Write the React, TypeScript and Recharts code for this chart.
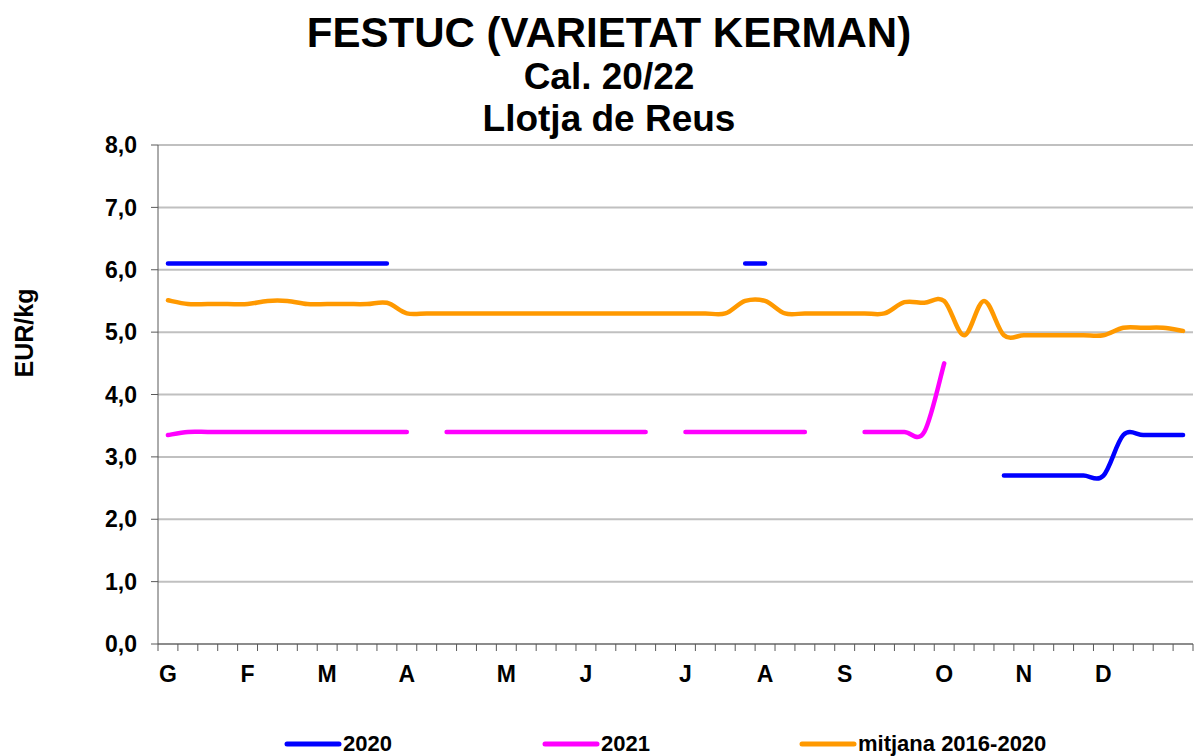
import { LineChart, Line, XAxis, YAxis, CartesianGrid } from "recharts";

const W = 1199;
const H = 756;
const FONT = "'Liberation Sans', Arial, Helvetica, sans-serif";

// 52 setmanes, lletra del mes a la setmana on comença
const monthLabels = ["G", "F", "M", "A", "M", "J", "J", "A", "S", "O", "N", "D"];
const monthStartWeek = [0, 4, 8, 12, 17, 21, 26, 30, 34, 39, 43, 47];

const serie2020 = [
  6.1, 6.1, 6.1, 6.1, 6.1, 6.1, 6.1, 6.1, 6.1, 6.1, 6.1, 6.1,
  null, null, null, null, null, null, null, null, null, null, null, null, null, null, null, null, null,
  6.1, 6.1,
  null, null, null, null, null, null, null, null, null, null, null,
  2.7, 2.7, 2.7, 2.7, 2.7, 2.7,
  3.35, 3.35, 3.35, 3.35,
];

const serie2021 = [
  3.35, 3.4, 3.4, 3.4, 3.4, 3.4, 3.4, 3.4, 3.4, 3.4, 3.4, 3.4, 3.4,
  null,
  3.4, 3.4, 3.4, 3.4, 3.4, 3.4, 3.4, 3.4, 3.4, 3.4, 3.4,
  null,
  3.4, 3.4, 3.4, 3.4, 3.4, 3.4, 3.4,
  null, null,
  3.4, 3.4, 3.4, 3.4, 4.5,
  null, null, null, null, null, null, null, null, null, null, null, null,
];

const mitjana = [
  5.51, 5.45, 5.45, 5.45, 5.45, 5.5, 5.5, 5.45, 5.45, 5.45, 5.45, 5.47,
  5.3, 5.3, 5.3, 5.3, 5.3, 5.3, 5.3, 5.3, 5.3, 5.3, 5.3, 5.3, 5.3, 5.3, 5.3, 5.3, 5.3,
  5.5, 5.5,
  5.3, 5.3, 5.3, 5.3, 5.3, 5.3,
  5.48, 5.47, 5.5, 4.95, 5.5,
  4.95, 4.95, 4.95, 4.95, 4.95, 4.95,
  5.07, 5.07, 5.07, 5.02,
];

const yTicks = [0, 1, 2, 3, 4, 5, 6, 7, 8];

const series = [
  { key: "s2020", name: "2020", color: "#0000FF" },
  { key: "s2021", name: "2021", color: "#FF00FF" },
  { key: "mitjana", name: "mitjana 2016-2020", color: "#FF9900" },
];

const data = mitjana.map((v, i) => ({
  x: i + 0.5,
  s2020: serie2020[i],
  s2021: serie2021[i],
  mitjana: v,
}));

const weekTicks = mitjana.map((_, i) => i).concat([mitjana.length]);
const labelTicks = monthStartWeek.map((w) => w + 0.5);

// suavitzat tipus Excel (bezier amb punts de control a 1/6)
const excelSmooth = (ctx: any) => {
  let pts: number[][] = [];
  return {
    areaStart() {},
    areaEnd() {},
    lineStart() {
      pts = [];
    },
    point(x: number, y: number) {
      pts.push([+x, +y]);
    },
    lineEnd() {
      const n = pts.length;
      if (!n) return;
      ctx.moveTo(pts[0][0], pts[0][1]);
      if (n === 1) {
        ctx.lineTo(pts[0][0] + 0.01, pts[0][1]);
        return;
      }
      for (let i = 0; i < n - 1; i++) {
        const p0 = pts[Math.max(i - 1, 0)];
        const p1 = pts[i];
        const p2 = pts[i + 1];
        const p3 = pts[Math.min(i + 2, n - 1)];
        ctx.bezierCurveTo(
          p1[0] + (p2[0] - p0[0]) / 6,
          p1[1] + (p2[1] - p0[1]) / 6,
          p2[0] - (p3[0] - p1[0]) / 6,
          p2[1] - (p3[1] - p1[1]) / 6,
          p2[0],
          p2[1]
        );
      }
    },
  };
};

const emptyLabel = () => "";
const yFormat = (v: number) => v.toFixed(1).replace(".", ",");
const axisGray = { stroke: "#595959" };
const yTickStyle = { fill: "#000", fontSize: 23, fontWeight: "bold", fontFamily: FONT };

const MonthTick = (p: any) => {
  const idx = labelTicks.indexOf(p.payload.value);
  return (
    <text x={p.x} y={p.y} dy={30} textAnchor="middle" fontFamily={FONT} fontWeight="bold" fontSize={23} fill="#000">
      {monthLabels[idx]}
    </text>
  );
};

const YTitle = () => (
  <text
    x={33}
    y={333}
    transform="rotate(-90 33 333)"
    textAnchor="middle"
    fontFamily={FONT}
    fontWeight="bold"
    fontSize={25}
    fill="#000"
  >
    EUR/kg
  </text>
);

const App = () => {
  return (
    <div style={{ position: "absolute", left: 0, top: 0, width: W, height: H, overflow: "hidden", background: "#fff" }}>
      <LineChart width={W} height={H} data={data} margin={{ top: 145, right: 6, bottom: 64, left: 0 }}>
        <CartesianGrid xAxisId={0} vertical={false} stroke="#C0C0C0" strokeWidth={2} />
        <XAxis
          xAxisId={0}
          dataKey="x"
          type="number"
          domain={[0, 52]}
          ticks={weekTicks}
          interval={0}
          height={8}
          tickSize={7}
          tickFormatter={emptyLabel}
          stroke="#595959"
          tickLine={axisGray}
        />
        <XAxis
          xAxisId={1}
          dataKey="x"
          type="number"
          domain={[0, 52]}
          ticks={labelTicks}
          interval={0}
          height={40}
          tickSize={0}
          tickMargin={0}
          axisLine={false}
          tickLine={false}
          tick={MonthTick}
        />
        <YAxis
          type="number"
          domain={[0, 8]}
          ticks={yTicks}
          interval={0}
          width={158}
          tickSize={7}
          tickMargin={14}
          stroke="#595959"
          tickFormatter={yFormat}
          tick={yTickStyle}
          label={{ content: YTitle }}
        />
        {series.map((s) => (
          <Line
            key={s.key}
            xAxisId={0}
            dataKey={s.key}
            name={s.name}
            type={excelSmooth as any}
            stroke={s.color}
            strokeWidth={4.5}
            strokeLinecap="round"
            strokeLinejoin="round"
            dot={false}
            activeDot={false}
            isAnimationActive={false}
          />
        ))}
      </LineChart>
      <svg
        width={W}
        height={H}
        style={{ position: "absolute", left: 0, top: 0, pointerEvents: "none" }}
        fontFamily={FONT}
        fontWeight="bold"
      >
        <text x={609} y={47} textAnchor="middle" fontSize={42}>
          FESTUC (VARIETAT KERMAN)
        </text>
        <text x={609} y={89} textAnchor="middle" fontSize={37}>
          Cal. 20/22
        </text>
        <text x={609} y={131} textAnchor="middle" fontSize={37}>
          Llotja de Reus
        </text>
        {series.map((s, i) => {
          const x0 = [287, 545, 802][i];
          return (
            <g key={s.key}>
              <line x1={x0} y1={744} x2={x0 + 52} y2={744} stroke={s.color} strokeWidth={5} strokeLinecap="round" />
              <text x={x0 + 56} y={751} fontSize={22}>
                {s.name}
              </text>
            </g>
          );
        })}
      </svg>
    </div>
  );
};

export default App;
